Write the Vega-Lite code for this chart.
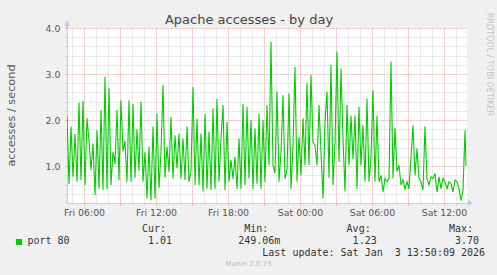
{
  "$schema": "https://vega.github.io/schema/vega-lite/v6.json",
  "width": 400,
  "height": 175,
  "autosize": {"type": "none"},
  "padding": {"left": 67, "top": 28, "right": 30, "bottom": 72},
  "background": "#f0f0f0",
  "config": {"view": {"fill": "white", "stroke": null}, "font": "DejaVu Sans"},
  "data": {"values": [
    {"t":"2026-01-02T04:35Z","v":2.11},{"t":"2026-01-02T04:45Z","v":0.62},{"t":"2026-01-02T04:55Z","v":1.86},
    {"t":"2026-01-02T05:05Z","v":0.77},{"t":"2026-01-02T05:15Z","v":1.70},{"t":"2026-01-02T05:25Z","v":0.66},{"t":"2026-01-02T05:35Z","v":2.38},{"t":"2026-01-02T05:45Z","v":0.70},{"t":"2026-01-02T05:55Z","v":2.42},
    {"t":"2026-01-02T06:05Z","v":0.59},{"t":"2026-01-02T06:15Z","v":2.04},{"t":"2026-01-02T06:25Z","v":1.55},{"t":"2026-01-02T06:35Z","v":0.91},{"t":"2026-01-02T06:45Z","v":1.49},{"t":"2026-01-02T06:55Z","v":0.37},
    {"t":"2026-01-02T07:05Z","v":1.78},{"t":"2026-01-02T07:15Z","v":0.51},{"t":"2026-01-02T07:25Z","v":2.22},{"t":"2026-01-02T07:35Z","v":0.48},{"t":"2026-01-02T07:45Z","v":2.94},{"t":"2026-01-02T07:55Z","v":0.50},
    {"t":"2026-01-02T08:05Z","v":2.69},{"t":"2026-01-02T08:15Z","v":0.59},{"t":"2026-01-02T08:25Z","v":1.31},{"t":"2026-01-02T08:35Z","v":1.05},{"t":"2026-01-02T08:45Z","v":2.22},{"t":"2026-01-02T08:55Z","v":0.70},
    {"t":"2026-01-02T09:05Z","v":2.43},{"t":"2026-01-02T09:15Z","v":1.32},{"t":"2026-01-02T09:25Z","v":1.55},{"t":"2026-01-02T09:35Z","v":0.66},{"t":"2026-01-02T09:45Z","v":2.43},{"t":"2026-01-02T09:55Z","v":0.66},
    {"t":"2026-01-02T10:05Z","v":2.35},{"t":"2026-01-02T10:15Z","v":0.75},{"t":"2026-01-02T10:25Z","v":1.80},{"t":"2026-01-02T10:35Z","v":0.90},{"t":"2026-01-02T10:45Z","v":2.40},{"t":"2026-01-02T10:55Z","v":0.66},
    {"t":"2026-01-02T11:05Z","v":1.30},{"t":"2026-01-02T11:15Z","v":0.30},{"t":"2026-01-02T11:25Z","v":1.42},{"t":"2026-01-02T11:35Z","v":0.26},{"t":"2026-01-02T11:45Z","v":1.86},{"t":"2026-01-02T11:55Z","v":0.30},
    {"t":"2026-01-02T12:05Z","v":2.14},{"t":"2026-01-02T12:15Z","v":0.52},{"t":"2026-01-02T12:25Z","v":1.30},{"t":"2026-01-02T12:35Z","v":2.76},{"t":"2026-01-02T12:45Z","v":0.75},{"t":"2026-01-02T12:55Z","v":1.42},
    {"t":"2026-01-02T13:05Z","v":0.88},{"t":"2026-01-02T13:15Z","v":2.07},{"t":"2026-01-02T13:25Z","v":0.73},{"t":"2026-01-02T13:35Z","v":1.67},{"t":"2026-01-02T13:45Z","v":0.95},{"t":"2026-01-02T13:55Z","v":1.71},
    {"t":"2026-01-02T14:05Z","v":0.73},{"t":"2026-01-02T14:15Z","v":1.60},{"t":"2026-01-02T14:25Z","v":0.70},{"t":"2026-01-02T14:35Z","v":1.86},{"t":"2026-01-02T14:45Z","v":0.66},{"t":"2026-01-02T14:55Z","v":0.90},
    {"t":"2026-01-02T15:05Z","v":2.72},{"t":"2026-01-02T15:15Z","v":0.59},{"t":"2026-01-02T15:25Z","v":2.03},{"t":"2026-01-02T15:35Z","v":0.59},{"t":"2026-01-02T15:45Z","v":1.71},{"t":"2026-01-02T15:55Z","v":0.45},
    {"t":"2026-01-02T16:05Z","v":2.14},{"t":"2026-01-02T16:15Z","v":0.51},{"t":"2026-01-02T16:25Z","v":1.75},{"t":"2026-01-02T16:35Z","v":0.48},{"t":"2026-01-02T16:45Z","v":2.25},{"t":"2026-01-02T16:55Z","v":0.51},
    {"t":"2026-01-02T17:05Z","v":2.46},{"t":"2026-01-02T17:15Z","v":0.66},{"t":"2026-01-02T17:25Z","v":1.60},{"t":"2026-01-02T17:35Z","v":2.33},{"t":"2026-01-02T17:45Z","v":0.48},{"t":"2026-01-02T17:55Z","v":1.96},
    {"t":"2026-01-02T18:05Z","v":0.66},{"t":"2026-01-02T18:15Z","v":1.13},{"t":"2026-01-02T18:25Z","v":0.73},{"t":"2026-01-02T18:35Z","v":1.20},{"t":"2026-01-02T18:45Z","v":0.51},{"t":"2026-01-02T18:55Z","v":1.60},
    {"t":"2026-01-02T19:05Z","v":0.51},{"t":"2026-01-02T19:15Z","v":2.35},{"t":"2026-01-02T19:25Z","v":0.59},{"t":"2026-01-02T19:35Z","v":2.29},{"t":"2026-01-02T19:45Z","v":0.73},{"t":"2026-01-02T19:55Z","v":2.00},
    {"t":"2026-01-02T20:05Z","v":0.51},{"t":"2026-01-02T20:15Z","v":1.82},{"t":"2026-01-02T20:25Z","v":0.62},{"t":"2026-01-02T20:35Z","v":2.14},{"t":"2026-01-02T20:45Z","v":0.51},{"t":"2026-01-02T20:55Z","v":2.00},
    {"t":"2026-01-02T21:05Z","v":0.66},{"t":"2026-01-02T21:15Z","v":2.33},{"t":"2026-01-02T21:25Z","v":1.02},{"t":"2026-01-02T21:35Z","v":3.70},{"t":"2026-01-02T21:45Z","v":1.02},{"t":"2026-01-02T21:55Z","v":0.85},
    {"t":"2026-01-02T22:05Z","v":2.62},{"t":"2026-01-02T22:15Z","v":0.66},{"t":"2026-01-02T22:25Z","v":1.30},{"t":"2026-01-02T22:35Z","v":2.54},{"t":"2026-01-02T22:45Z","v":0.73},{"t":"2026-01-02T22:55Z","v":0.90},
    {"t":"2026-01-02T23:05Z","v":2.58},{"t":"2026-01-02T23:15Z","v":0.51},{"t":"2026-01-02T23:25Z","v":1.42},{"t":"2026-01-02T23:35Z","v":3.16},{"t":"2026-01-02T23:45Z","v":0.66},{"t":"2026-01-02T23:55Z","v":1.64},
    {"t":"2026-01-03T00:05Z","v":0.80},{"t":"2026-01-03T00:15Z","v":2.04},{"t":"2026-01-03T00:25Z","v":1.02},{"t":"2026-01-03T00:35Z","v":2.80},{"t":"2026-01-03T00:45Z","v":1.02},{"t":"2026-01-03T00:55Z","v":2.98},
    {"t":"2026-01-03T01:05Z","v":1.52},{"t":"2026-01-03T01:15Z","v":1.45},{"t":"2026-01-03T01:25Z","v":1.02},{"t":"2026-01-03T01:35Z","v":2.33},{"t":"2026-01-03T01:45Z","v":1.31},{"t":"2026-01-03T01:55Z","v":0.30},
    {"t":"2026-01-03T02:05Z","v":1.96},{"t":"2026-01-03T02:15Z","v":2.62},{"t":"2026-01-03T02:25Z","v":0.75},{"t":"2026-01-03T02:35Z","v":3.20},{"t":"2026-01-03T02:45Z","v":0.59},{"t":"2026-01-03T02:55Z","v":1.50},
    {"t":"2026-01-03T03:05Z","v":3.49},{"t":"2026-01-03T03:15Z","v":1.09},{"t":"2026-01-03T03:25Z","v":3.12},{"t":"2026-01-03T03:35Z","v":1.60},{"t":"2026-01-03T03:45Z","v":0.45},{"t":"2026-01-03T03:55Z","v":2.33},
    {"t":"2026-01-03T04:05Z","v":1.02},{"t":"2026-01-03T04:15Z","v":2.10},{"t":"2026-01-03T04:25Z","v":1.15},{"t":"2026-01-03T04:35Z","v":2.10},{"t":"2026-01-03T04:45Z","v":0.51},{"t":"2026-01-03T04:55Z","v":2.29},
    {"t":"2026-01-03T05:05Z","v":1.02},{"t":"2026-01-03T05:15Z","v":1.89},{"t":"2026-01-03T05:25Z","v":0.66},{"t":"2026-01-03T05:35Z","v":2.47},{"t":"2026-01-03T05:45Z","v":0.66},{"t":"2026-01-03T05:55Z","v":1.20},
    {"t":"2026-01-03T06:05Z","v":2.65},{"t":"2026-01-03T06:15Z","v":0.66},{"t":"2026-01-03T06:25Z","v":2.10},{"t":"2026-01-03T06:35Z","v":0.66},{"t":"2026-01-03T06:45Z","v":0.80},{"t":"2026-01-03T06:55Z","v":0.44},
    {"t":"2026-01-03T07:05Z","v":0.73},{"t":"2026-01-03T07:15Z","v":0.66},{"t":"2026-01-03T07:25Z","v":0.73},{"t":"2026-01-03T07:35Z","v":3.27},{"t":"2026-01-03T07:45Z","v":0.73},{"t":"2026-01-03T07:55Z","v":1.82},
    {"t":"2026-01-03T08:05Z","v":0.88},{"t":"2026-01-03T08:15Z","v":1.02},{"t":"2026-01-03T08:25Z","v":0.59},{"t":"2026-01-03T08:35Z","v":0.70},{"t":"2026-01-03T08:45Z","v":0.51},{"t":"2026-01-03T08:55Z","v":0.66},
    {"t":"2026-01-03T09:05Z","v":0.51},{"t":"2026-01-03T09:15Z","v":1.20},{"t":"2026-01-03T09:25Z","v":1.89},{"t":"2026-01-03T09:35Z","v":0.80},{"t":"2026-01-03T09:45Z","v":1.38},{"t":"2026-01-03T09:55Z","v":0.73},
    {"t":"2026-01-03T10:05Z","v":0.66},{"t":"2026-01-03T10:15Z","v":0.48},{"t":"2026-01-03T10:25Z","v":1.86},{"t":"2026-01-03T10:35Z","v":0.73},{"t":"2026-01-03T10:45Z","v":0.59},{"t":"2026-01-03T10:55Z","v":0.77},
    {"t":"2026-01-03T11:05Z","v":0.73},{"t":"2026-01-03T11:15Z","v":0.84},{"t":"2026-01-03T11:25Z","v":0.44},{"t":"2026-01-03T11:35Z","v":0.77},{"t":"2026-01-03T11:45Z","v":0.51},{"t":"2026-01-03T11:55Z","v":0.73},
    {"t":"2026-01-03T12:05Z","v":0.66},{"t":"2026-01-03T12:15Z","v":0.51},{"t":"2026-01-03T12:25Z","v":0.66},{"t":"2026-01-03T12:35Z","v":0.62},{"t":"2026-01-03T12:45Z","v":0.44},{"t":"2026-01-03T12:55Z","v":0.70},
    {"t":"2026-01-03T13:05Z","v":0.66},{"t":"2026-01-03T13:15Z","v":0.51},{"t":"2026-01-03T13:25Z","v":0.25},{"t":"2026-01-03T13:35Z","v":0.48},{"t":"2026-01-03T13:45Z","v":1.78},{"t":"2026-01-03T13:50Z","v":1.01}
  ]},
  "layer": [
    {
      "mark": {"type": "line", "strokeWidth": 1.1, "clip": true, "color": "#00cc00"},
      "encoding": {
        "x": {
          "field": "t", "type": "temporal",
          "scale": {"type": "utc", "domain": [1767328500000, 1767448500000]},
          "axis": {
            "orient": "bottom",
            "tickCount": 34,
            "format": "%a %H:%M",
            "labelExpr": "(datum.value / 3600000) % 6 === 0 ? datum.label : ''",
            "labelOverlap": false, "labelFlush": false,
            "labelFont": "DejaVu Sans", "labelFontSize": 9.4, "labelColor": "#555555", "labelPadding": 3,
            "tickSize": 2,
            "tickColor": {"condition": {"test": "(datum.value / 3600000) % 3 === 0", "value": "#e4a0a0"}, "value": "#d4d4d4"},
            "grid": true,
            "gridColor": {"condition": {"test": "(datum.value / 3600000) % 3 === 0", "value": "#e4a0a0"}, "value": "#d4d4d4"},
            "gridDash": [1, 1], "gridWidth": 1,
            "domainColor": "#c8c8f0", "domainWidth": 1,
            "title": [
              "\u200b\u00a0\u00a0\u00a0\u00a0\u00a0\u00a0\u00a0\u00a0\u00a0\u00a0\u00a0\u00a0\u00a0\u00a0\u00a0\u00a0\u00a0\u00a0\u00a0Cur:\u00a0\u00a0\u00a0\u00a0\u00a0\u00a0\u00a0\u00a0\u00a0\u00a0\u00a0\u00a0\u00a0Min:\u00a0\u00a0\u00a0\u00a0\u00a0\u00a0\u00a0\u00a0\u00a0\u00a0\u00a0\u00a0\u00a0Avg:\u00a0\u00a0\u00a0\u00a0\u00a0\u00a0\u00a0\u00a0\u00a0\u00a0\u00a0\u00a0\u00a0Max:",
              "port\u00a080\u00a0\u00a0\u00a0\u00a0\u00a0\u00a0\u00a0\u00a0\u00a0\u00a0\u00a0\u00a0\u00a01.01\u00a0\u00a0\u00a0\u00a0\u00a0\u00a0\u00a0\u00a0\u00a0\u00a0\u00a0249.06m\u00a0\u00a0\u00a0\u00a0\u00a0\u00a0\u00a0\u00a0\u00a0\u00a0\u00a0\u00a01.23\u00a0\u00a0\u00a0\u00a0\u00a0\u00a0\u00a0\u00a0\u00a0\u00a0\u00a0\u00a0\u00a03.70",
              "\u200b\u00a0\u00a0\u00a0\u00a0\u00a0\u00a0\u00a0\u00a0\u00a0\u00a0\u00a0\u00a0\u00a0\u00a0\u00a0\u00a0\u00a0\u00a0\u00a0\u00a0\u00a0\u00a0\u00a0\u00a0\u00a0\u00a0\u00a0\u00a0\u00a0\u00a0\u00a0\u00a0\u00a0\u00a0\u00a0\u00a0\u00a0\u00a0\u00a0Last\u00a0update:\u00a0Sat\u00a0Jan\u00a0\u00a03\u00a013:50:09\u00a02026"
            ],
            "titleFont": "DejaVu Sans Mono", "titleFontSize": 10, "titleFontWeight": "normal", "titleColor": "#333333",
            "titleAlign": "left", "titleAngle": 0, "titleBaseline": "alphabetic",
            "titleX": -40, "titleY": 28.5, "titleLineHeight": 12, "titleLimit": 2000
          }
        },
        "y": {
          "field": "v", "type": "quantitative",
          "scale": {"domain": [0.2, 4.0], "nice": false, "zero": false},
          "axis": {
            "values": [0.2, 0.4, 0.6, 0.8, 1.0, 1.2, 1.4, 1.6, 1.8, 2.0, 2.2, 2.4, 2.6, 2.8, 3.0, 3.2, 3.4, 3.6, 3.8, 4.0],
            "labelExpr": "abs(datum.value - round(datum.value)) < 0.001 ? format(datum.value, '.1f') : ''",
            "labelOverlap": false, "labelFlush": false,
            "labelFont": "DejaVu Sans", "labelFontSize": 9.4, "labelColor": "#555555", "labelPadding": 5,
            "tickSize": 2,
            "tickColor": {"condition": {"test": "abs(datum.value - round(datum.value)) < 0.001", "value": "#e4a0a0"}, "value": "#d4d4d4"},
            "grid": true,
            "gridColor": {"condition": {"test": "abs(datum.value - round(datum.value)) < 0.001", "value": "#e4a0a0"}, "value": "#d4d4d4"},
            "gridDash": [1, 1], "gridWidth": 1,
            "domainColor": "#c8c8f0", "domainWidth": 1,
            "title": "accesses / second",
            "titleFont": "DejaVu Sans", "titleFontSize": 11.3, "titleFontWeight": "normal", "titleColor": "#555555",
            "titleAngle": 270, "titleAlign": "center", "titleBaseline": "middle",
            "titleX": -56, "titleY": 87
          }
        },
        "color": {
          "datum": "port 80",
          "scale": {"range": ["#00cc00"]},
          "legend": {
            "orient": "none", "legendX": -53, "legendY": 209, "title": null, "padding": 0,
            "symbolType": "square", "symbolSize": 36, "symbolFillColor": "#00cc00", "symbolStrokeColor": "#00cc00", "symbolStrokeWidth": 0,
            "labelExpr": "''"
          }
        }
      }
    },
    {
      "mark": {"type": "point", "opacity": 0},
      "encoding": {
        "x": {
          "field": "t", "type": "temporal",
          "axis": {"orient": "top", "labels": false, "ticks": false, "domain": false, "grid": false,
            "title": "Apache accesses - by day", "titleFont": "DejaVu Sans", "titleFontSize": 13, "titleFontWeight": "normal", "titleColor": "#444444",
            "titleAlign": "center", "titleBaseline": "middle", "titleAngle": 0, "titleX": 181.5, "titleY": -8.5}
        },
        "y": {
          "field": "v", "type": "quantitative",
          "axis": {"orient": "right", "labels": false, "ticks": false, "domain": false, "grid": false,
            "title": "RRDTOOL / TOBI OETIKER", "titleFont": "DejaVu Sans", "titleFontSize": 8, "titleFontWeight": "normal", "titleColor": "#c4c4c4",
            "titleAlign": "center", "titleBaseline": "middle", "titleAngle": 90, "titleX": 21, "titleY": 36}
        }
      }
    },
    {
      "mark": {"type": "point", "opacity": 0},
      "encoding": {
        "x": {
          "field": "t", "type": "temporal",
          "axis": {"orient": "top", "labels": false, "ticks": false, "domain": false, "grid": false,
            "title": "Munin 2.0.73", "titleFont": "DejaVu Sans", "titleFontSize": 7, "titleFontWeight": "normal", "titleColor": "#bbbbbb",
            "titleAlign": "center", "titleBaseline": "middle", "titleAngle": 0, "titleX": 181, "titleY": 235}
        },
        "y": {"field": "v", "type": "quantitative", "axis": null}
      }
    },
    {
      "mark": {"type": "rule", "color": "#c8c8f0", "clip": false},
      "encoding": {
        "x": {"datum": 1767328500000, "type": "temporal", "axis": null},
        "y": {"datum": 4.0, "type": "quantitative", "axis": null},
        "y2": {"datum": 4.12}
      }
    },
    {
      "mark": {"type": "point", "shape": "triangle-up", "filled": true, "color": "#c8c8f0", "size": 22, "opacity": 1, "clip": false},
      "encoding": {
        "x": {"datum": 1767328500000, "type": "temporal", "axis": null},
        "y": {"datum": 4.1, "type": "quantitative", "axis": null}
      }
    },
    {
      "mark": {"type": "rule", "color": "#c8c8f0", "clip": false},
      "encoding": {
        "x": {"datum": 1767448500000, "type": "temporal", "axis": null},
        "x2": {"datum": 1767449700000},
        "y": {"datum": 0.2, "type": "quantitative", "axis": null}
      }
    },
    {
      "mark": {"type": "point", "shape": "triangle-right", "filled": true, "color": "#c8c8f0", "size": 22, "opacity": 1, "clip": false},
      "encoding": {
        "x": {"datum": 1767449400000, "type": "temporal", "axis": null},
        "y": {"datum": 0.2, "type": "quantitative", "axis": null}
      }
    }
  ],
  "resolve": {"axis": {"x": "independent", "y": "independent"}}
}
